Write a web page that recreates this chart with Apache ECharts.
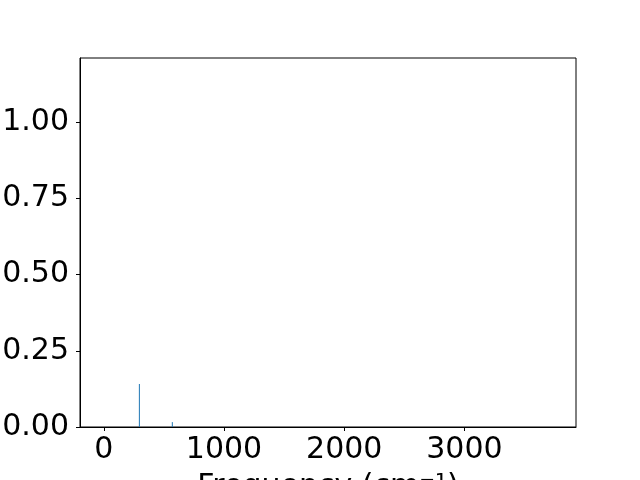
<!DOCTYPE html>
<html>
<head>
<meta charset="utf-8">
<script src="https://cdn.jsdelivr.net/npm/echarts@6/dist/echarts.min.js"></script>
<style>html,body{margin:0;padding:0;background:#fff}#c{width:640px;height:480px}</style>
</head>
<body>
<div id="c"></div>
<script>
const frequencies = [296, 570];
const intensities = [0.141, 0.016];
const xTicks = [0, 1000, 2000, 3000];
const yTicks = [0, 0.25, 0.5, 0.75, 1.0];
const xLabel = 'Frequency (cm⁻¹)';

const stemData = [];
frequencies.forEach((f, i) => {
  stemData.push([f, 0]);
  stemData.push([f, intensities[i]]);
  stemData.push('-');
});

const chart = echarts.init(document.getElementById('c'), null, {renderer: 'canvas'});
const font = 'DejaVu Sans';
chart.setOption({
  animation: false,
  backgroundColor: '#fff',
  grid: {left: 80, right: 64, top: 58, bottom: 53, show: true, borderColor: '#000', borderWidth: 1,
    containLabel: false, outerBoundsMode: 'none'},
  xAxis: {
    type: 'value', min: -198, max: 3928,
    name: xLabel, nameLocation: 'middle', nameGap: 45,
    nameTextStyle: {fontFamily: font, fontSize: 30, color: '#000'},
    axisLine: {show: true, onZero: false, lineStyle: {color: '#000', width: 1}},
    axisTick: {show: true, inside: false, length: 4, lineStyle: {color: '#000'}, customValues: xTicks},
    axisLabel: {fontFamily: font, fontSize: 30, color: '#000', margin: 8, customValues: xTicks,
      formatter: v => String(v)},
    splitLine: {show: false}
  },
  yAxis: {
    type: 'value', min: 0, max: 1.21,
    axisLine: {show: true, onZero: false, lineStyle: {color: '#000', width: 1}},
    axisTick: {show: true, inside: false, length: 4, lineStyle: {color: '#000'}, customValues: yTicks},
    axisLabel: {fontFamily: font, fontSize: 30, color: '#000', margin: 11, customValues: yTicks,
      formatter: v => v.toFixed(2)},
    splitLine: {show: false}
  },
  series: [{
    type: 'line', data: stemData, showSymbol: false, connectNulls: false,
    lineStyle: {color: '#1f77b4', width: 1}
  }]
});
</script>
</body>
</html>
